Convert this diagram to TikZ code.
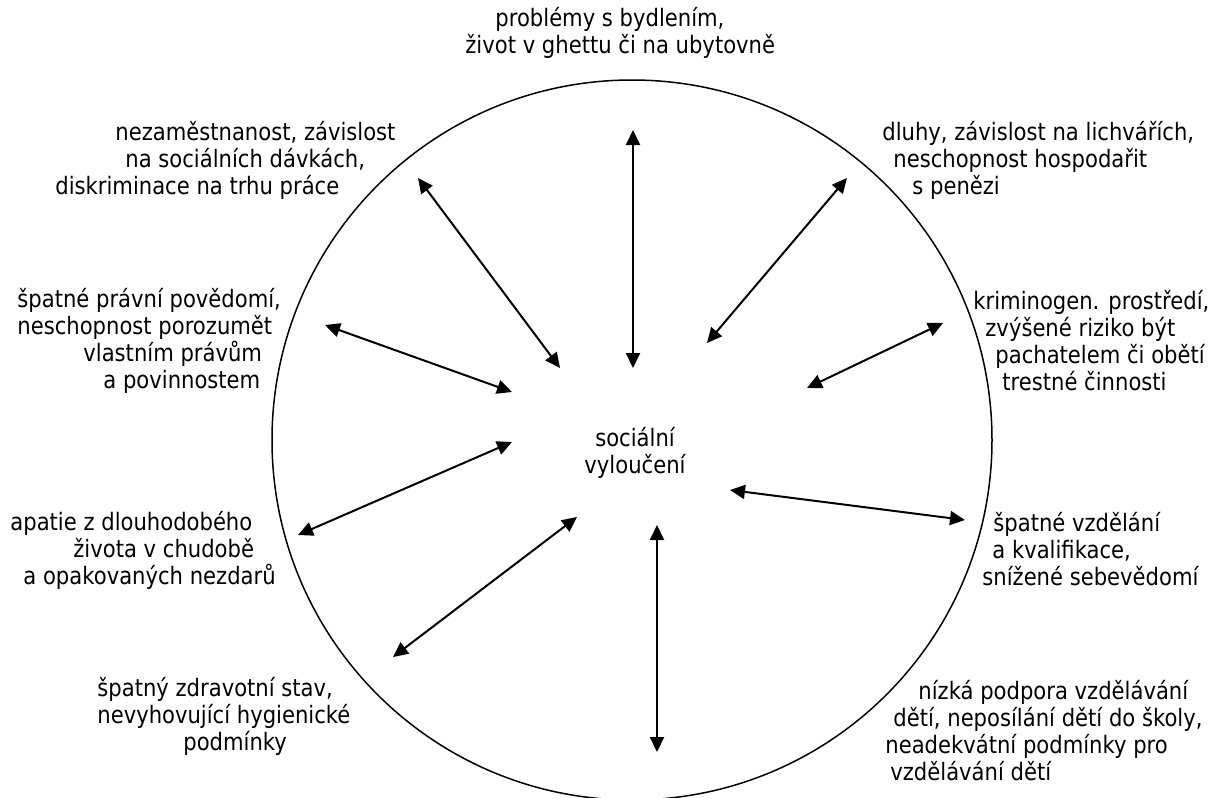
\documentclass[tikz,border=0pt]{standalone}
\usepackage{fontspec}
\setmainfont{DejaVu Sans}[FakeStretch=0.88]
\usetikzlibrary{arrows.meta}

\begin{document}
\begin{tikzpicture}[x=0.5pt,y=-0.5pt,
    popis/.style={align=left, anchor=west, inner sep=0pt, font=\fontsize{12}{13.5}\selectfont},
    vazba/.style={{Triangle[length=7.5pt,width=7pt]}-{Triangle[length=7.5pt,width=7pt]}, line width=1pt}
    ]
    \useasboundingbox (0,0) rectangle (1227,798);

    \node[circle, draw, line width=0.75pt, minimum size=360pt, inner sep=0pt] (kruh) at (632,440) {};
    \node[popis, align=center, anchor=center] (vylouceni) at (635,453) {sociální\\vyloučení};

    % popisky kolem kruhu
    \node[popis] (bydleni) at (465,33) {\hspace*{15pt}problémy s bydlením,\\život v ghettu či na ubytovně};
    \node[popis] (prace) at (55,160) {\hspace*{30pt}nezaměstnanost, závislost\\\hspace*{35pt}na sociálních dávkách,\\diskriminace na trhu práce};
    \node[popis] (pravo) at (17,341) {špatné právní povědomí,\\neschopnost porozumět\\\hspace*{33pt}vlastním právům\\\hspace*{43pt}a povinnostem};
    \node[popis] (apatie) at (10,550) {apatie z dlouhodobého\\\hspace*{31.5pt}života v chudobě\\\hspace*{6.5pt}a opakovaných nezdarů};
    \node[popis] (zdravi) at (97,716) {špatný zdravotní stav,\\nevyhovující hygienické\\\hspace*{43pt}podmínky};
    \node[popis] (dluhy) at (882,160) {dluhy, závislost na lichvářích,\\\hspace*{5.5pt}neschopnost hospodařit\\\hspace*{15pt}s penězi};
    \node[popis] (krim) at (973,341) {kriminogen. prostředí,\\\hspace*{6pt}zvýšené riziko být\\\hspace*{11pt}pachatelem či obětí\\\hspace*{14.5pt}trestné činnosti};
    \node[popis] (vzdelani) at (982,549) {\hspace*{5.5pt}špatné vzdělání\\\hspace*{5pt}a kvalifikace,\\snížené sebevědomí};
    \node[popis] (skola) at (885,731) {\hspace*{16.5pt}nízká podpora vzdělávání\\\hspace*{4pt}dětí, neposílání dětí do školy,\\neadekvátní podmínky pro\\\hspace*{2.5pt}vzdělávání dětí};

    % konce sipek
    \coordinate (bydleni-v) at (633,130);  \coordinate (bydleni-s) at (633,368);
    \coordinate (prace-v) at (418,178);    \coordinate (prace-s) at (560,368);
    \coordinate (pravo-v) at (325,325);    \coordinate (pravo-s) at (512,392);
    \coordinate (apatie-v) at (298,535);   \coordinate (apatie-s) at (512,442);
    \coordinate (zdravi-v) at (393,657);   \coordinate (zdravi-s) at (577,517);
    \coordinate (skola-v) at (657,752);    \coordinate (skola-s) at (657,525);
    \coordinate (vzdelani-v) at (965,520); \coordinate (vzdelani-s) at (730,490);
    \coordinate (krim-v) at (943,323);     \coordinate (krim-s) at (807,388);
    \coordinate (dluhy-v) at (847,178);    \coordinate (dluhy-s) at (707,343);

    \draw[vazba] (bydleni-v) -- (bydleni-s);
    \draw[vazba] (prace-v) -- (prace-s);
    \draw[vazba] (pravo-v) -- (pravo-s);
    \draw[vazba] (apatie-v) -- (apatie-s);
    \draw[vazba] (zdravi-v) -- (zdravi-s);
    \draw[vazba] (skola-v) -- (skola-s);
    \draw[vazba] (vzdelani-v) -- (vzdelani-s);
    \draw[vazba] (krim-v) -- (krim-s);
    \draw[vazba] (dluhy-v) -- (dluhy-s);
\end{tikzpicture}
\end{document}
